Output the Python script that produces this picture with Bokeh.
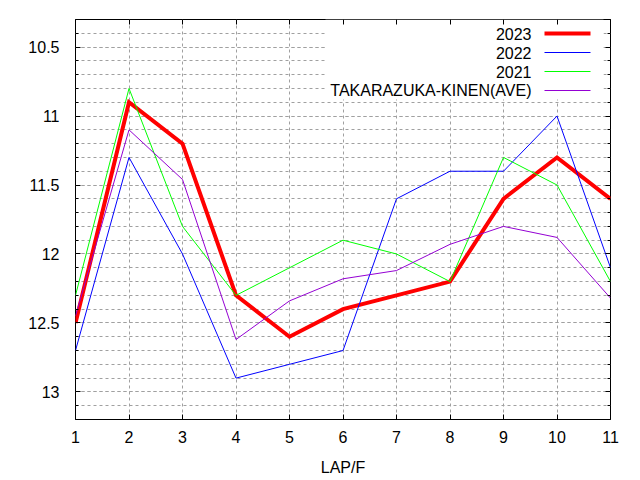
from bokeh.plotting import figure
from bokeh.models import (Range1d, FixedTicker, LinearAxis, Label, Arrow,
                          BoxAnnotation, CustomJSTickFormatter)
from bokeh.embed import file_html
from bokeh.resources import INLINE

# ---- data ----
laps = [1, 2, 3, 4, 5, 6, 7, 8, 9, 10, 11]
y2023 = [12.5, 10.9, 11.2, 12.3, 12.6, 12.4, 12.3, 12.2, 11.6, 11.3, 11.6]
y2022 = [12.7, 11.3, 12.0, 12.9, 12.8, 12.7, 11.6, 11.4, 11.4, 11.0, 12.1]
y2021 = [12.3, 10.8, 11.8, 12.3, 12.1, 11.9, 12.0, 12.2, 11.3, 11.5, 12.2]
y_ave = [12.45, 11.1, 11.46, 12.62, 12.34, 12.18, 12.12, 11.93, 11.8, 11.88, 12.32]

series_names = ["2023", "2022", "2021", "TAKARAZUKA-KINEN(AVE)"]
series_values = [y2023, y2022, y2021, y_ave]
series_colors = ["#ff0000", "#0000ff", "#00ff00", "#9400d3"]
series_widths = [4, 1, 1, 1]

y_major = [10.5, 11, 11.5, 12, 12.5, 13]
y_major_labels = ["10.5", "11", "11.5", "12", "12.5", "13"]
y_minor = [round(10.3 + 0.1 * i, 1) for i in range(30)]
x_label = "LAP/F"

FONT = "Liberation Sans"
FS = "16px"

p = figure(width=640, height=480, frame_width=535, frame_height=400,
           output_backend="svg", toolbar_location=None,
           x_range=Range1d(1, 11), y_range=Range1d(13.2, 10.3),
           min_border_left=75, min_border_top=19, min_border_right=30,
           min_border_bottom=61)
p.outline_line_color = "black"
p.outline_line_width = 1
p.background_fill_color = "white"
p.border_fill_color = "white"

yt = FixedTicker(ticks=y_major, minor_ticks=y_minor)
xt = FixedTicker(ticks=laps, minor_ticks=[])

for ax in (p.xaxis[0], p.yaxis[0]):
    ax.axis_line_color = None
    ax.major_tick_in = 5
    ax.major_tick_out = 0
    ax.minor_tick_in = 3
    ax.minor_tick_out = 0
    ax.major_label_text_font = FONT
    ax.major_label_text_font_size = FS
    ax.major_label_text_color = "black"
    ax.major_tick_line_color = "black"
    ax.minor_tick_line_color = "black"

p.yaxis[0].ticker = yt
p.yaxis[0].major_label_overrides = {v: s for v, s in zip(y_major, y_major_labels)}
p.yaxis[0].major_label_standoff = 16
p.xaxis[0].ticker = xt
p.xaxis[0].major_label_standoff = 11
p.xaxis[0].axis_label = x_label
p.xaxis[0].axis_label_text_font = FONT
p.xaxis[0].axis_label_text_font_size = FS
p.xaxis[0].axis_label_text_font_style = "normal"
p.xaxis[0].axis_label_text_color = "black"
p.xaxis[0].axis_label_standoff = 13

blank = CustomJSTickFormatter(code="return ''")
right_ax = LinearAxis(ticker=yt, formatter=blank, axis_line_color=None,
                      major_tick_in=5, major_tick_out=0, minor_tick_in=3,
                      minor_tick_out=0, major_label_standoff=0,
                      major_label_text_font_size="1px")
top_ax = LinearAxis(ticker=xt, formatter=blank, axis_line_color=None,
                    major_tick_in=5, major_tick_out=0, minor_tick_in=0,
                    minor_tick_out=0, major_label_standoff=0,
                    major_label_text_font_size="1px")
p.add_layout(right_ax, "right")
p.add_layout(top_ax, "above")

grid_color = "#a0a0a0"
p.xgrid[0].ticker = xt
p.xgrid[0].grid_line_color = grid_color
p.xgrid[0].grid_line_dash = "3 3"
p.ygrid[0].ticker = yt
p.ygrid[0].grid_line_color = grid_color
p.ygrid[0].grid_line_dash = "3 3"
p.ygrid[0].minor_grid_line_color = grid_color
p.ygrid[0].minor_grid_line_dash = "3 3"

for vals, col, w in zip(series_values, series_colors, series_widths):
    p.line(laps, vals, line_color=col, line_width=w, line_join="miter")

# legend (gnuplot style: text then sample line); screen units are
# measured from the frame's bottom-left corner
box = BoxAnnotation(left=250, right=528, top=400, bottom=320,
                    left_units="screen", right_units="screen",
                    top_units="screen", bottom_units="screen",
                    fill_color="white", fill_alpha=1.0, line_color=None,
                    level="underlay")
p.add_layout(box)
row_y = [386, 367, 348, 329]
for name, col, w, ry in zip(series_names, series_colors, series_widths, row_y):
    p.add_layout(Label(x=456, y=ry, x_units="screen", y_units="screen",
                       text=name, text_align="right", text_baseline="middle",
                       text_font=FONT, text_font_size=FS, text_color="black"))
    p.add_layout(Arrow(x_start=469, y_start=ry, x_end=515, y_end=ry,
                       start_units="screen", end_units="screen", end=None,
                       line_color=col, line_width=w))

open("out.html", "w").write(file_html(p, INLINE))
